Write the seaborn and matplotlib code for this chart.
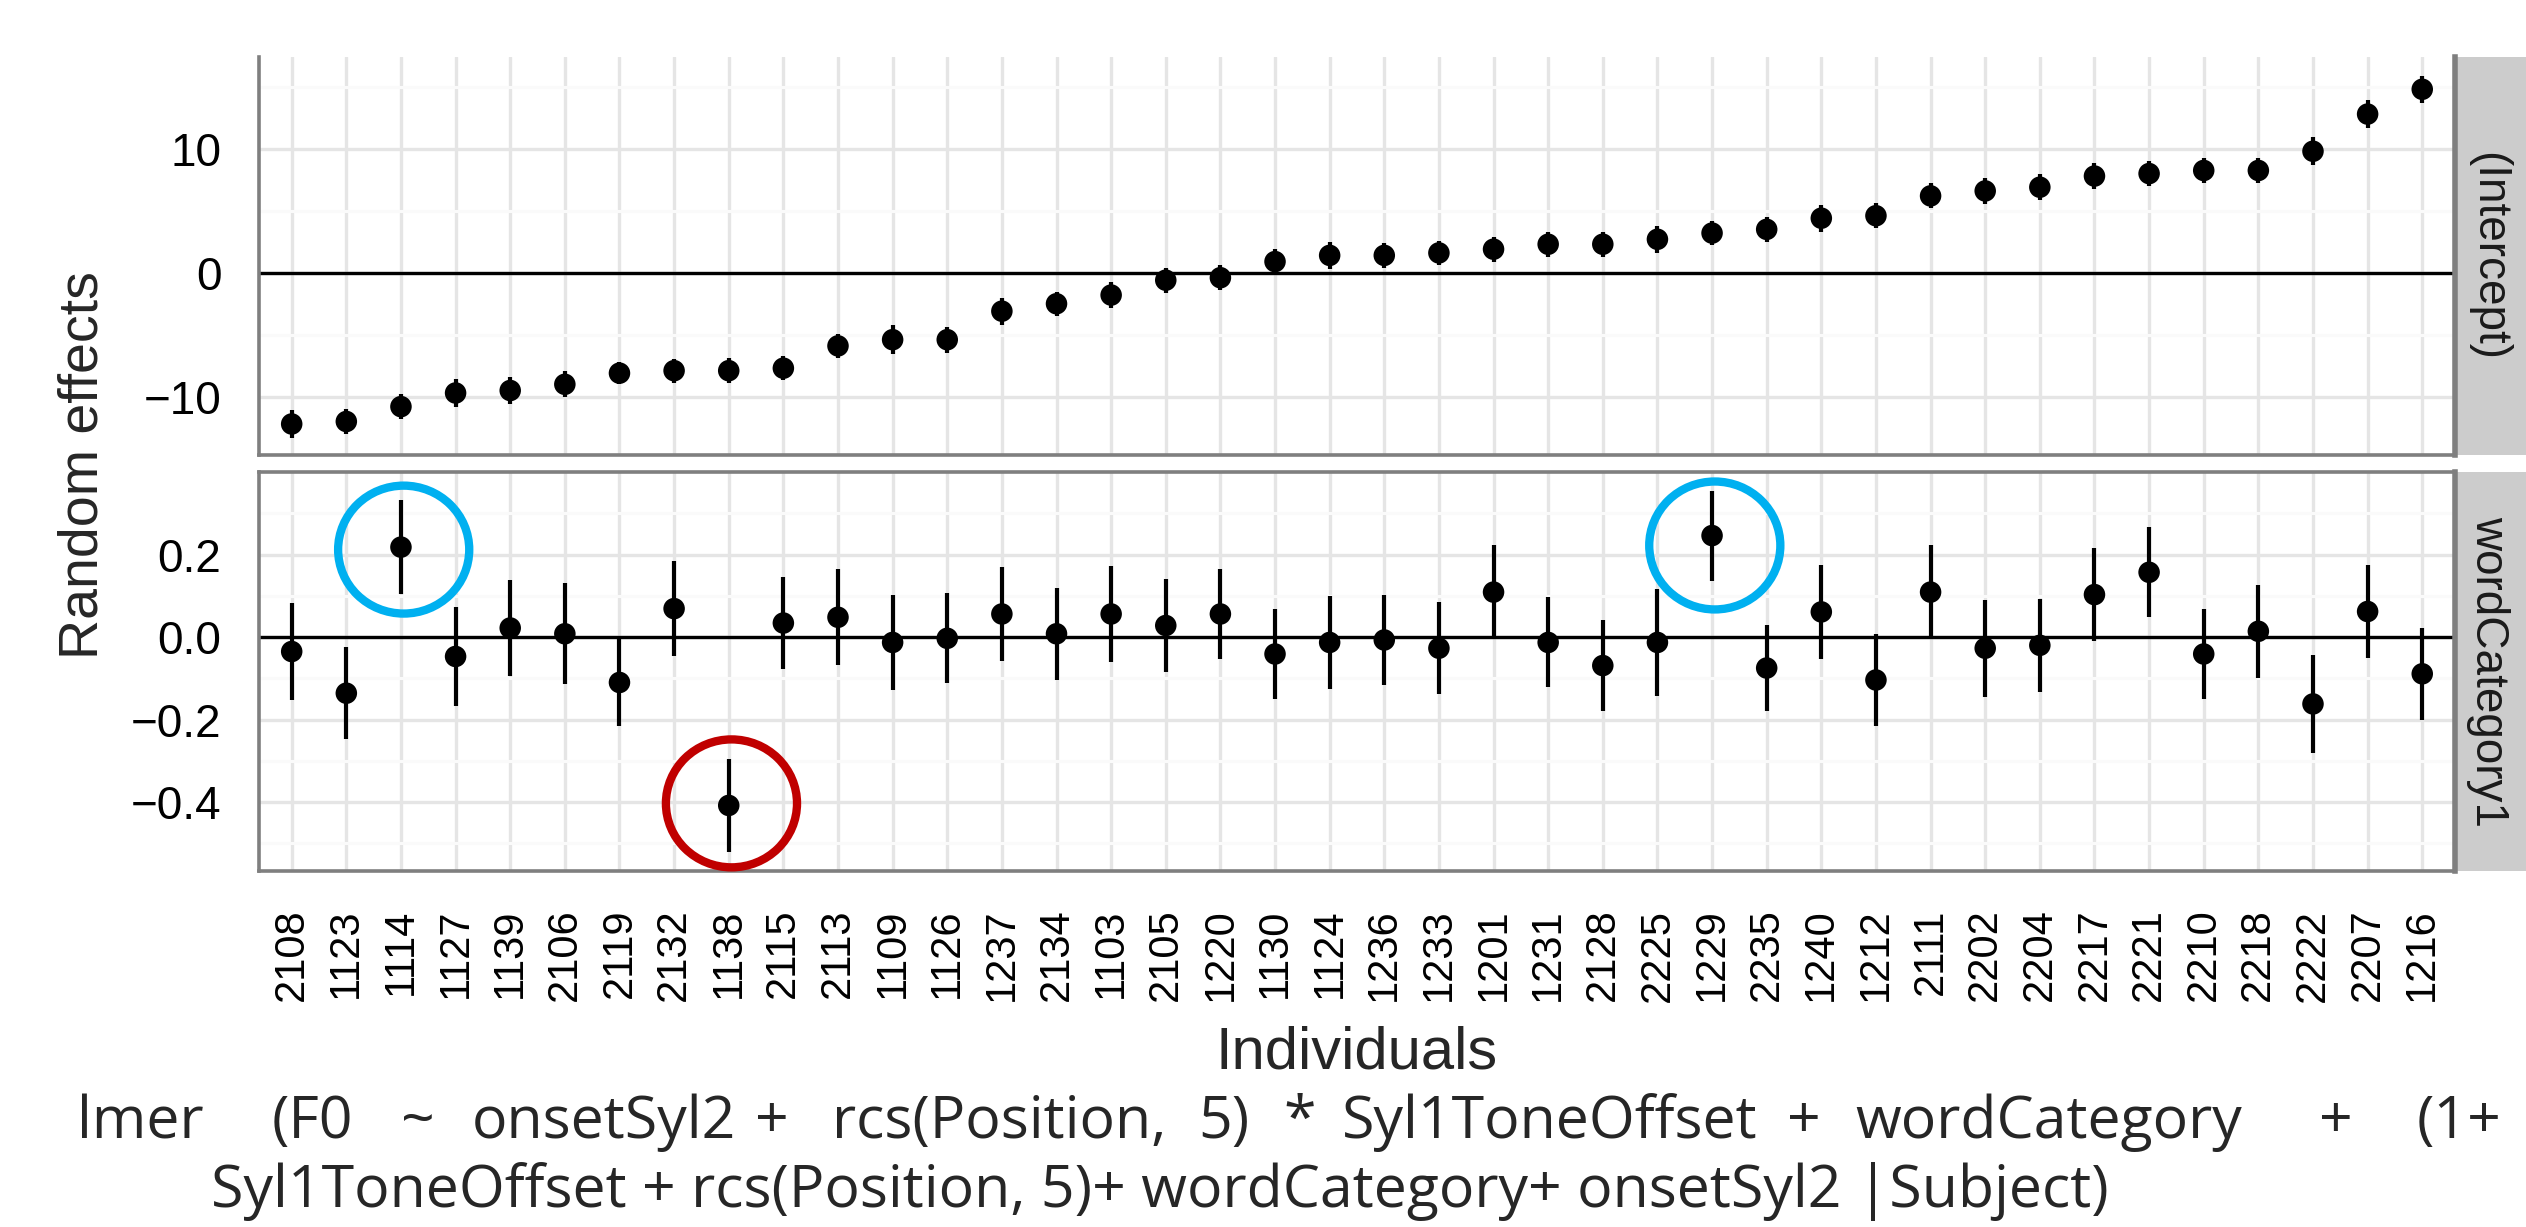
import numpy as np
import pandas as pd
import matplotlib
matplotlib.use("Agg")
import matplotlib.pyplot as plt
from matplotlib.patches import Ellipse
import seaborn as sns


# Individuals in the order shown on the x axis
individuals = ['2108', '1123', '1114', '1127', '1139', '2106', '2119', '2132', '1138', '2115',
               '2113', '1109', '1126', '1237', '2134', '1103', '2105', '1220', '1130', '1124',
               '1236', '1233', '1201', '1231', '2128', '2225', '1229', '2235', '1240', '1212',
               '2111', '2202', '2204', '2217', '2221', '2210', '2218', '2222', '2207', '1216']

# (Intercept) random effects and half-width of the interval
intercept = [-12.2, -12.0, -10.8, -9.7, -9.5, -9.0, -8.1, -7.9, -7.9, -7.7,
             -5.9, -5.4, -5.4, -3.1, -2.5, -1.8, -0.6, -0.4, 0.9, 1.4,
             1.4, 1.6, 1.9, 2.3, 2.3, 2.7, 3.2, 3.5, 4.4, 4.6,
             6.2, 6.6, 6.9, 7.8, 8.0, 8.25, 8.25, 9.8, 12.8, 14.8]
intercept_err = [1.10, 0.99, 1.01, 1.13, 1.12, 1.05, 0.87, 0.98, 1.03, 0.98,
                 0.98, 1.16, 1.05, 1.10, 0.98, 1.05, 1.02, 0.99, 0.99, 1.12,
                 1.00, 1.00, 1.00, 1.00, 1.00, 1.10, 1.00, 1.00, 1.10, 1.00,
                 1.00, 1.05, 1.05, 1.03, 1.03, 1.00, 1.00, 1.13, 1.13, 1.08]

# wordCategory1 random slopes and half-width of the interval
slope = [-0.035, -0.136, 0.218, -0.047, 0.022, 0.008, -0.110, 0.069, -0.408, 0.034,
         0.048, -0.013, -0.003, 0.056, 0.008, 0.056, 0.028, 0.056, -0.041, -0.013,
         -0.007, -0.027, 0.109, -0.013, -0.069, -0.013, 0.246, -0.075, 0.061, -0.104,
         0.109, -0.027, -0.020, 0.103, 0.157, -0.041, 0.014, -0.162, 0.062, -0.089]
slope_err = [0.118, 0.112, 0.114, 0.120, 0.117, 0.122, 0.106, 0.115, 0.112, 0.112,
             0.116, 0.115, 0.109, 0.113, 0.111, 0.116, 0.112, 0.110, 0.108, 0.112,
             0.109, 0.112, 0.113, 0.109, 0.111, 0.129, 0.109, 0.105, 0.113, 0.111,
             0.113, 0.118, 0.113, 0.113, 0.109, 0.109, 0.113, 0.119, 0.113, 0.112]

# highlighted individuals (hand-drawn circles) and circle centres on the y scale
circled = ['1114', '1138', '1229']
circle_y = [0.212, -0.403, 0.222]
circle_colors = ['#00B0F0', '#C00000', '#00B0F0']

# formula under the chart; first line is justified, so the inner words sit at
# their own centre x (figure px); head and tail are left aligned
formula_1_head = 'lmer'
formula_1_words = ['(F0', '~', 'onsetSyl2', '+', 'rcs(Position,', '5)', '*',
                   'Syl1ToneOffset', '+', 'wordCategory', '+']
formula_1_x = [312, 418, 604, 772, 999, 1224, 1300, 1550, 1804, 2049, 2336]
formula_1_tail = '(1+'
formula_2 = "Syl1ToneOffset + rcs(Position, 5)+ wordCategory+ onsetSyl2 |Subject)"

df = pd.DataFrame({'ind': individuals, 'pos': np.arange(len(individuals)),
                   'intercept': intercept, 'intercept_err': intercept_err,
                   'slope': slope, 'slope_err': slope_err})

sns.set_theme(style="whitegrid")
plt.rcParams['font.family'] = ['Liberation Sans', 'DejaVu Sans']

W, H = 2526, 1227
fig = plt.figure(figsize=(W / 100, H / 100), dpi=100)
ax_top = fig.add_axes([0.1025, 0.6292, 0.8694, 0.3243])
ax_bot = fig.add_axes([0.1025, 0.2901, 0.8694, 0.3252])

panels = [(ax_top, 'intercept', 'intercept_err', [-10, 0, 10], [-5, 5, 15], (-14.7, 17.4), '(Intercept)'),
          (ax_bot, 'slope', 'slope_err', [-0.4, -0.2, 0.0, 0.2], [-0.5, -0.3, -0.1, 0.1, 0.3], (-0.567, 0.40), 'wordCategory1')]

for ax, col, err, ticks, minor, lims, strip in panels:
    ax.set_facecolor('white')
    ax.set_axisbelow(True)
    ax.set_yticks(minor, minor=True)
    ax.grid(which='major', color='#E5E5E5', linewidth=2.4)
    ax.grid(which='minor', axis='y', color='#FAFAFA', linewidth=2.2)
    ax.axhline(0, color='black', linewidth=2.4, zorder=2)
    ax.errorbar(df['pos'], df[col], yerr=df[err], fmt='none', ecolor='black',
                elinewidth=3.0, capsize=0, zorder=3)
    sns.scatterplot(data=df, x='pos', y=col, ax=ax, color='black', s=240,
                    edgecolor='none', zorder=4, legend=False)
    ax.set_xlim(-0.6, len(individuals) - 0.4)
    ax.set_ylim(*lims)
    ax.set_yticks(ticks)
    ax.set_xticks(df['pos'])
    ax.set_xlabel('')
    ax.set_ylabel('')
    ax.tick_params(axis='both', which='major', length=17, width=2.2, color='black',
                   labelcolor='black', pad=10)
    ax.tick_params(axis='y', labelsize=33)
    ax.tick_params(axis='x', labelsize=30, labelrotation=90)
    ax.tick_params(which='minor', length=0)
    for sp in ax.spines.values():
        sp.set_color('#7F7F7F')
        sp.set_linewidth(2.6)
    pos = ax.get_position()
    sax = fig.add_axes([pos.x1, pos.y0, 0.04, pos.height])
    sax.set_facecolor('#CCCCCC')
    sax.set_xticks([])
    sax.set_yticks([])
    sax.grid(False)
    for name, sp in sax.spines.items():
        sp.set_visible(name == 'left')
    sax.spines['left'].set_color('#7F7F7F')
    sax.spines['left'].set_linewidth(4)
    fig.text(pos.x1 + 0.0131, pos.y0 + pos.height / 2, strip, rotation=-90,
             ha='center', va='center', fontsize=33, color='#1A1A1A')

# the top edge of the upper panel is cropped in the original
ax_top.spines['top'].set_visible(False)
ax_top.set_yticklabels(['−10', '0', '10'])
ax_top.tick_params(axis='x', length=0, labelbottom=False)
ax_bot.set_yticklabels(['−0.4', '−0.2', '0.0', '0.2'])
ax_bot.set_xticklabels(df['ind'])

for ind, cy, c in zip(circled, circle_y, circle_colors):
    cx = df.loc[df['ind'] == ind, 'pos'].iloc[0]
    ax_bot.add_patch(Ellipse((cx + 0.05, cy), width=2.4, height=0.31,
                             fill=False, edgecolor=c, linewidth=6, zorder=5, clip_on=False))

fig.text(0.033, 0.621, 'Random effects', rotation=90, ha='center', va='center', fontsize=40)
fig.text(0.537, 0.142, 'Individuals', ha='center', va='center', fontsize=43)
formula_font = dict(fontsize=42.5, family=['Open Sans', 'DejaVu Sans'], va='baseline')
fig.text(77 / W, 0.0725, formula_1_head, ha='left', **formula_font)
for word, x in zip(formula_1_words, formula_1_x):
    fig.text(x / W, 0.0725, word, ha='center', **formula_font)
fig.text(2417 / W, 0.0725, formula_1_tail, ha='left', **formula_font)
fig.text(0.0835, 0.0163, formula_2, ha='left', **formula_font)

fig.savefig('out.png', dpi=100, facecolor='white')
